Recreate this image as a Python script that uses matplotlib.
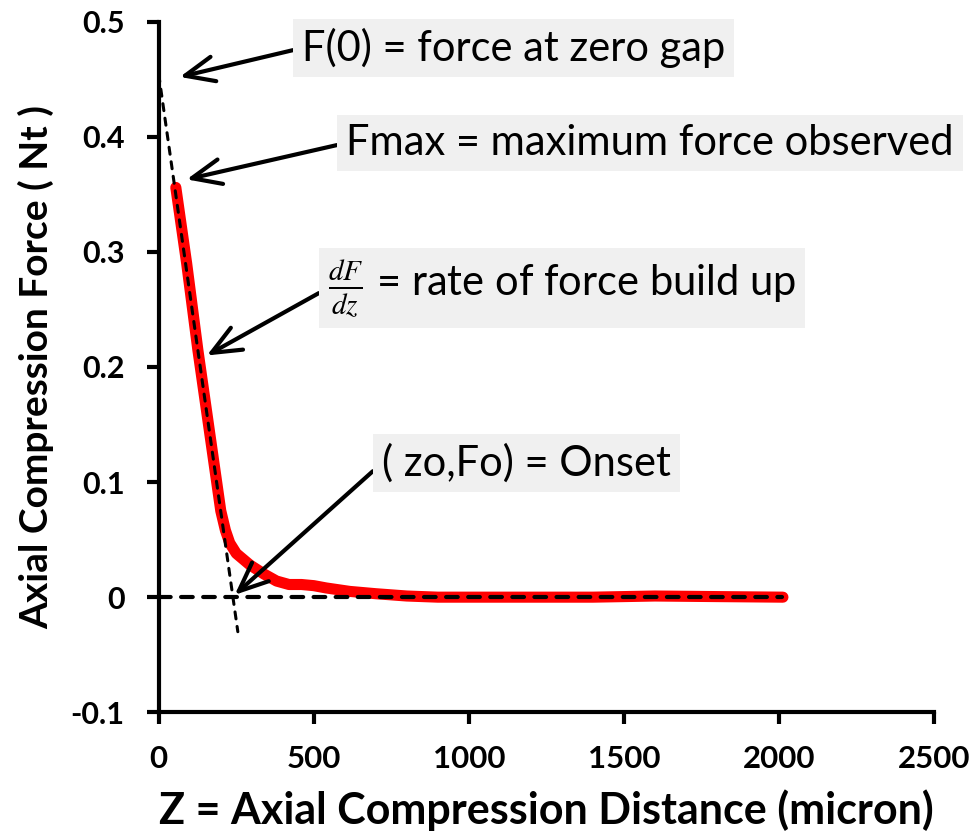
import matplotlib
matplotlib.use("Agg")
import matplotlib.pyplot as plt

plt.rcParams['font.family'] = ['Lato', 'DejaVu Sans']
plt.rcParams['mathtext.fontset'] = 'stix'

z_micron = [55, 90, 126, 172, 200, 215, 229, 250, 294, 340, 380, 420, 460, 500,
            540, 616, 700, 800, 900, 1000, 1200, 1400, 1600, 1800, 2013]
force_nt = [0.356, 0.290, 0.215, 0.128, 0.075, 0.058, 0.047, 0.038, 0.028, 0.020,
            0.014, 0.011, 0.011, 0.010, 0.008, 0.005, 0.003, 0.001, 0.0, 0.0,
            0.0, 0.0, 0.001, 0.0005, 0.0]

# tangent line and zero baseline
tangent_z = [0, 255]
tangent_f = [0.454, -0.030]
base_z = [0, 2010]
base_f = [0, 0]

# annotation text, arrow tip (data coords), text anchor (figure pixels)
notes = [
    ("F(0) = force at zero gap", (68, 0.452), (302, 835 - 48)),
    ("Fmax = maximum force observed", (90, 0.363), (346, 835 - 143)),
    (r"$\frac{dF}{dz}$ = rate of force build up", (155, 0.210), (328, 835 - 288)),
    ("( zo,Fo) = Onset", (245, 0.002), (382, 835 - 463)),
]

fig = plt.figure(figsize=(9.8, 8.35), dpi=100)
ax = fig.add_axes([0.162, 0.147, 0.791, 0.827])

ax.plot(z_micron, force_nt, color='red', lw=8, solid_capstyle='round',
        solid_joinstyle='round', zorder=2)
ax.plot(tangent_z, tangent_f, color='black', lw=2.2, ls=(0, (2.3, 2.5)),
        dash_capstyle='round', zorder=3)
ax.plot(base_z, base_f, color='black', lw=3, ls=(0, (2.8, 2.5)),
        dash_capstyle='round', zorder=3)

ax.set_xlim(0, 2500)
ax.set_ylim(-0.1, 0.5)
ax.set_xticks([0, 500, 1000, 1500, 2000, 2500])
ax.set_yticks([-0.1, 0, 0.1, 0.2, 0.3, 0.4, 0.5])
ax.set_yticklabels(["-0.1", "0", "0.1", "0.2", "0.3", "0.4", "0.5"])

for s in ['top', 'right']:
    ax.spines[s].set_visible(False)
for s in ['left', 'bottom']:
    ax.spines[s].set_linewidth(3)
ax.tick_params(axis='both', width=3, length=8.5, direction='out')
ax.tick_params(axis='x', pad=15, labelsize=22.5)
ax.tick_params(axis='y', pad=16, labelsize=22)
for lab in ax.get_xticklabels() + ax.get_yticklabels():
    lab.set_fontweight('bold')

ax.set_xlabel("Z = Axial Compression Distance (micron)", fontsize=31,
              fontweight='bold', labelpad=12)
ax.set_ylabel("Axial Compression Force ( Nt )", fontsize=28,
              fontweight='bold', labelpad=12)

for txt, tip, pos in notes:
    ax.annotate(txt, xy=tip, xycoords='data', xytext=pos,
                textcoords='figure pixels', ha='left', va='center',
                fontsize=30,
                bbox=dict(boxstyle='square,pad=0.22', fc='#f0f0f0', ec='none'),
                arrowprops=dict(arrowstyle='->,head_length=0.7,head_width=0.3',
                                lw=3, color='black', shrinkA=0, shrinkB=0,
                                relpos=(0, 0.5)),
                zorder=4)

fig.savefig("out.png", dpi=100)
